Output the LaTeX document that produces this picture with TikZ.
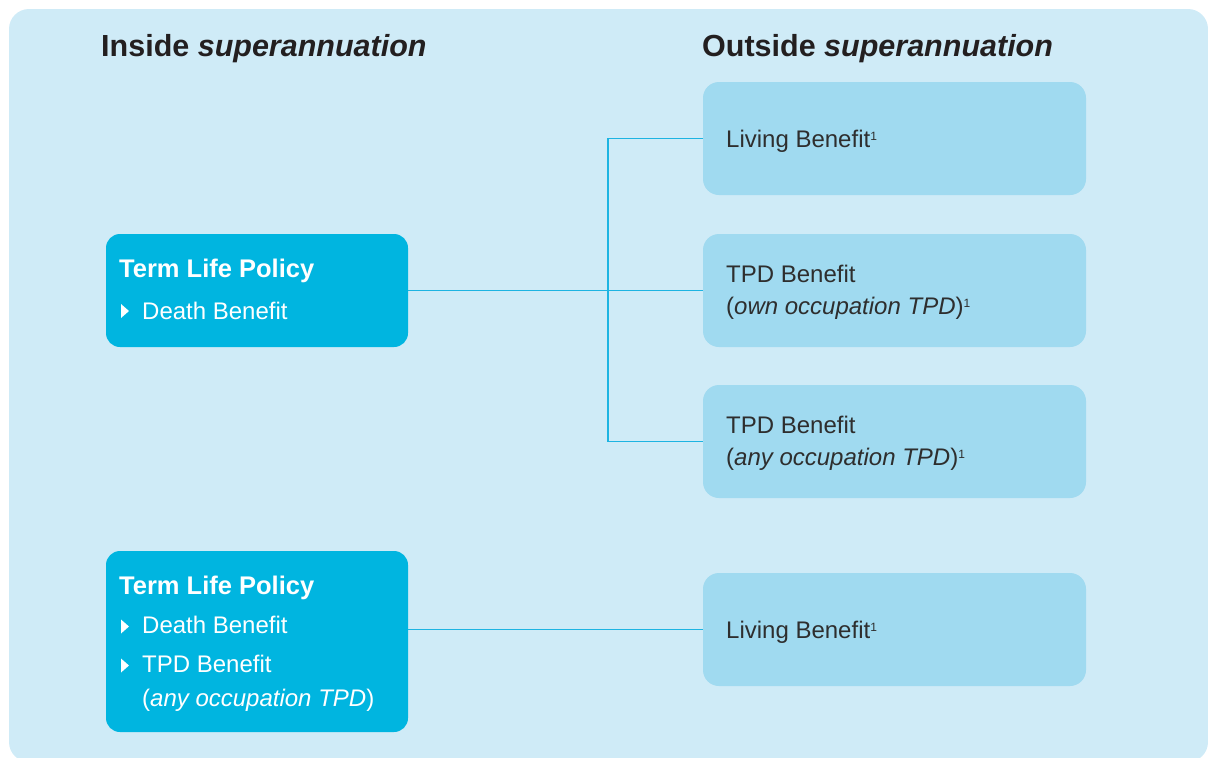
\documentclass[tikz,border=0pt]{standalone}
\usepackage{fontspec}
\setmainfont{Liberation Sans}
\definecolor{bgblue}{HTML}{CFEBF7}
\definecolor{darkbox}{HTML}{00B5E0}
\definecolor{lightbox}{HTML}{A0DAF0}
\definecolor{connblue}{HTML}{1DB4E2}
\definecolor{titlecol}{HTML}{231F20}
\definecolor{txtcol}{HTML}{2E2E2E}
\newcommand{\supone}{{\fontsize{12}{12}\selectfont\raisebox{7.5pt}{1}}}
\begin{document}
\begin{tikzpicture}[x=1pt,y=-1pt,
  darkstyle/.style={draw=none, fill=darkbox, rounded corners=14pt, inner sep=0pt, outer sep=0pt},
  lightstyle/.style={draw=none, fill=lightbox, rounded corners=16pt, inner sep=0pt, outer sep=0pt},
  titletxt/.style={anchor=base west, inner sep=0pt, text=titlecol, font=\fontsize{30.5}{36}\selectfont\bfseries},
  headtxt/.style={anchor=base west, inner sep=0pt, text=white, font=\fontsize{25.5}{28}\selectfont\bfseries},
  whitetxt/.style={anchor=base west, inner sep=0pt, text=white, font=\fontsize{24}{28}\selectfont},
  darktxt/.style={anchor=base west, inner sep=0pt, text=txtcol, font=\fontsize{24}{28}\selectfont},
  conn/.style={draw=connblue, line width=1.6pt},
  bullet/.style={fill=white, draw=none},
  boxnode/.style={inner sep=0pt, outer sep=0pt}
]
\useasboundingbox (0,0) rectangle (1208,758);
\fill[bgblue, rounded corners=20pt] (9,9) rectangle (1208,762);

% titles
\node[titletxt] (tin) at (101,56) {Inside \textit{superannuation}};
\node[titletxt] (tout) at (702,56) {Outside \textit{superannuation}};

% left boxes
\path[darkstyle] (106,234) rectangle (408,347);
\node[boxnode, minimum width=302pt, minimum height=113pt] (L1) at (257,290.5) {};
\path[darkstyle] (106,551) rectangle (408,732);
\node[boxnode, minimum width=302pt, minimum height=181pt] (L2) at (257,641.5) {};

% right boxes
\path[lightstyle] (703,82) rectangle (1086,195);
\node[boxnode, minimum width=383pt, minimum height=113pt] (R1) at (894.5,138.5) {};
\path[lightstyle] (703,234) rectangle (1086,347);
\node[boxnode, minimum width=383pt, minimum height=113pt] (R2) at (894.5,290.5) {};
\path[lightstyle] (703,385) rectangle (1086,498);
\node[boxnode, minimum width=383pt, minimum height=113pt] (R3) at (894.5,441.5) {};
\path[lightstyle] (703,573) rectangle (1086,686);
\node[boxnode, minimum width=383pt, minimum height=113pt] (R4) at (894.5,629.5) {};

% connectors
\coordinate (J) at (608,290.5);
\draw[conn] (L1.east) -- (R2.west);
\draw[conn] (R1.west) -| (J) |- (R3.west);
\draw[conn] (L2.east |- R4.west) -- (R4.west);

% left box 1 text
\node[headtxt] (l1h) at (119,277.5) {Term Life Policy};
\fill[bullet] (121,304) -- (129,311) -- (121,318) -- cycle;
\node[whitetxt] (l1a) at (142,319) {Death Benefit};

% left box 2 text
\node[headtxt] (l2h) at (119,594) {Term Life Policy};
\fill[bullet] (121,619.5) -- (129,626.5) -- (121,633.5) -- cycle;
\node[whitetxt] (l2a) at (142,633.5) {Death Benefit};
\fill[bullet] (121,658.5) -- (129,665.5) -- (121,672.5) -- cycle;
\node[whitetxt] (l2b) at (142,672.5) {TPD Benefit};
\node[whitetxt] (l2c) at (142,706.5) {(\textit{any occupation TPD})};

% right texts
\node[darktxt] (r1t) at (726,147.5) {Living Benefit\supone};
\node[darktxt] (r2a) at (726,282.5) {TPD Benefit};
\node[darktxt] (r2b) at (726,314.5) {(\textit{own occupation TPD})\supone};
\node[darktxt] (r3a) at (726,433.5) {TPD Benefit};
\node[darktxt] (r3b) at (726,465.5) {(\textit{any occupation TPD})\supone};
\node[darktxt] (r4t) at (726,638.5) {Living Benefit\supone};
\end{tikzpicture}
\end{document}
